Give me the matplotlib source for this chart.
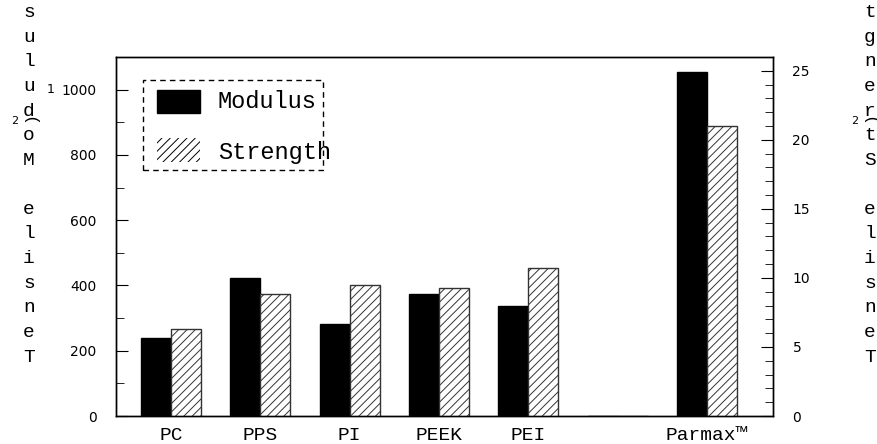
import numpy as np
import matplotlib
matplotlib.use("Agg")
from matplotlib import pyplot as plt
from matplotlib.patches import Rectangle

# donnees
materiaux = ["PC", "PPS", "PI", "PEEK", "PEI", "", "Parmax™"]
modulus = [238, 422, 281, 373, 336, 0, 1053]        # axe de gauche
strength = [6.3, 8.8, 9.5, 9.3, 10.7, 0, 21.0]      # axe de droite

mono = "Liberation Mono"

fig = plt.figure(figsize=(8.78, 4.44), dpi=100)
ax = fig.add_axes([116 / 878, 28 / 444, 657 / 878, 359 / 444])
ax2 = ax.twinx()

x = np.arange(len(materiaux))
w = 0.336

ax.bar(x - w / 2, modulus, w, color="black", edgecolor="black", linewidth=1)
plt.rcParams["hatch.linewidth"] = 0.7
ax2.bar(x + w / 2, strength, w, color="white", edgecolor="#333333",
        hatch="////", linewidth=1)

ax.set_xlim(-0.616, 6.74)
ax.set_ylim(0, 1100)
ax2.set_ylim(0, 26)

ax.set_xticks(x)
ax.set_xticklabels(materiaux, fontfamily=mono, fontsize=14)
ax.tick_params(axis="x", length=0, pad=8)

ax.set_yticks(np.arange(0, 1001, 200))
ax.set_yticks(np.arange(0, 1100, 100), minor=True)
ax.tick_params(axis="y", which="major", direction="in", length=8.5, pad=14, labelsize=10)
ax.tick_params(axis="y", which="minor", direction="in", length=6)

ax2.set_yticks(np.arange(0, 26, 5))
ax2.set_yticks(np.arange(0, 26, 1), minor=True)
ax2.tick_params(axis="y", which="major", direction="in", length=8.5, pad=14, labelsize=10)
ax2.tick_params(axis="y", which="minor", direction="in", length=6)

for a in (ax, ax2):
    for s in a.spines.values():
        s.set_linewidth(1)

# legende faite a la main (cadre pointille)
t = ax2.transAxes
ax2.add_patch(Rectangle((0.0411, 0.685), 0.274, 0.251, transform=t, fill=False,
                        edgecolor="black", linestyle=(0, (4, 3)), linewidth=1, zorder=5))
ax2.add_patch(Rectangle((0.0624, 0.844), 0.0655, 0.064, transform=t,
                        facecolor="black", edgecolor="black", zorder=5))
ax2.add_patch(Rectangle((0.0624, 0.708), 0.0655, 0.066, transform=t,
                        facecolor="white", edgecolor="black", hatch="////",
                        linewidth=0, zorder=5))
ax2.text(0.155, 0.877, "Modulus", transform=t, fontfamily=mono, fontsize=17,
         va="center", ha="left", zorder=6)
ax2.text(0.155, 0.735, "Strength", transform=t, fontfamily=mono, fontsize=17,
         va="center", ha="left", zorder=6)

# titres des axes : lettres empilees depuis le bas (le haut sort de la figure)
def lettres_empilees(texte, xpix):
    for i, c in enumerate(texte):
        ypix = 357 - i * 24.6
        if ypix < 0:
            continue
        fig.text(xpix / 878, 1 - ypix / 444, c, fontfamily=mono, fontsize=14,
                 ha="center", va="center")

lettres_empilees("Tensile Modulus", 29)
lettres_empilees("Tensile Strength", 870)

# petits caracteres parasites
fig.text(15 / 878, 1 - 121 / 444, "2", fontsize=8, ha="center", va="center")
fig.text(51 / 878, 1 - 89 / 444, "1", fontsize=9, ha="center", va="center")
fig.text(31 / 878, 1 - 117 / 444, ")", fontfamily=mono, fontsize=12,
         ha="center", va="center", rotation=90)
fig.text(855 / 878, 1 - 121 / 444, "2", fontsize=8, ha="center", va="center")
fig.text(871 / 878, 1 - 117 / 444, ")", fontfamily=mono, fontsize=12,
         ha="center", va="center", rotation=90)

fig.savefig("out.png", dpi=100)
